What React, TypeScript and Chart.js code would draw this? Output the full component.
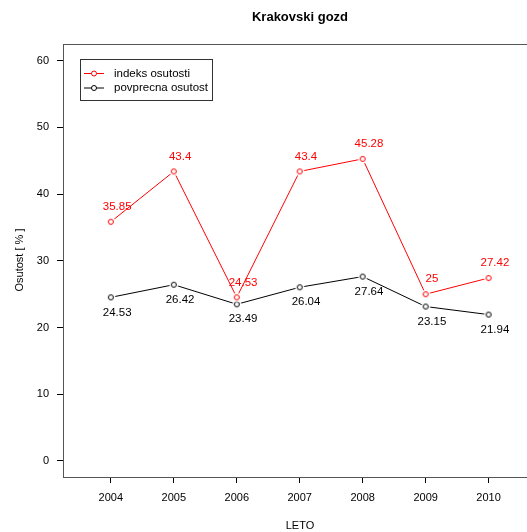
import React, { useEffect, useRef } from "react";
import { Chart, registerables } from "chart.js";

Chart.register(...registerables);

const years = [2004, 2005, 2006, 2007, 2008, 2009, 2010];
const indeksOsutosti = [35.85, 43.4, 24.53, 43.4, 45.28, 25, 27.42];
const povprecnaOsutost = [24.53, 26.42, 23.49, 26.04, 27.64, 23.15, 21.94];
const yTicks = [0, 10, 20, 30, 40, 50, 60];
const seriesNames = ["indeks osutosti", "povprecna osutost"];
const seriesColors = ["#ff0000", "#000000"];
const titleText = "Krakovski gozd";
const xTitle = "LETO";
const yTitle = "Osutost [ % ]";

const FONT = "'Liberation Sans', Arial, sans-serif";

function makePoint(color: string) {
  const c = document.createElement("canvas");
  c.width = 12;
  c.height = 12;
  const ctx = c.getContext("2d")!;
  ctx.fillStyle = "#ffffff";
  ctx.beginPath();
  ctx.arc(6, 6, 4.5, 0, Math.PI * 2);
  ctx.fill();
  ctx.strokeStyle = color;
  ctx.lineWidth = 1;
  ctx.beginPath();
  ctx.arc(6, 6, 2.5, 0, Math.PI * 2);
  ctx.stroke();
  return c;
}

const decorPlugin = {
  id: "decor",
  afterDatasetsDraw(chart: any) {
    const ctx = chart.ctx;
    const area = chart.chartArea;
    const xs = chart.scales.x;
    ctx.save();
    // top border of box
    ctx.strokeStyle = "#555";
    ctx.lineWidth = 1;
    ctx.beginPath();
    ctx.moveTo(area.left, Math.round(area.top) + 0.5);
    ctx.lineTo(area.right, Math.round(area.top) + 0.5);
    ctx.stroke();

    // data labels
    ctx.font = `11.5px ${FONT}`;
    ctx.textAlign = "center";
    ctx.textBaseline = "middle";
    chart.data.datasets.forEach((ds: any, di: number) => {
      const meta = chart.getDatasetMeta(di);
      ctx.fillStyle = ds.borderColor;
      meta.data.forEach((pt: any, i: number) => {
        const v = ds.data[i].y;
        const x = xs.getPixelForValue(years[i] + 0.1);
        const y = di === 0 ? pt.y - 15 : pt.y + 15;
        ctx.fillText(String(v), x, y);
      });
    });

    // title
    ctx.fillStyle = "#000";
    ctx.font = `bold 13px ${FONT}`;
    ctx.fillText(titleText, 300, 17);

    // axis titles
    ctx.font = `11px ${FONT}`;
    ctx.fillText(xTitle, 300, 526);
    ctx.save();
    ctx.translate(20, 260);
    ctx.rotate(-Math.PI / 2);
    ctx.fillText(yTitle, 0, 0);
    ctx.restore();

    // legend
    const lx = 80.5, ly = 59.5, lw = 132, lh = 41;
    ctx.strokeStyle = "#333";
    ctx.strokeRect(lx, ly, lw, lh);
    const rows = [73.5, 88];
    chart.data.datasets.forEach((ds: any, di: number) => {
      const ry = rows[di];
      ctx.strokeStyle = ds.borderColor;
      ctx.beginPath();
      ctx.moveTo(84, ry);
      ctx.lineTo(104, ry);
      ctx.stroke();
      ctx.fillStyle = "#fff";
      ctx.beginPath();
      ctx.arc(94, ry, 2.5, 0, Math.PI * 2);
      ctx.fill();
      ctx.stroke();
      ctx.fillStyle = "#000";
      ctx.textAlign = "left";
      ctx.font = `11.5px ${FONT}`;
      ctx.fillText(ds.label, 114, ry);
    });
    ctx.restore();
  },
};

export default function App() {
  const ref = useRef<HTMLCanvasElement>(null);
  useEffect(() => {
    const series = [indeksOsutosti, povprecnaOsutost];
    const chart = new Chart(ref.current!, {
      type: "line",
      data: {
        datasets: series.map((vals, si) => ({
          label: seriesNames[si],
          data: vals.map((v, i) => ({ x: years[i], y: v })),
          borderColor: seriesColors[si],
          backgroundColor: seriesColors[si],
          borderWidth: 1,
          pointStyle: makePoint(seriesColors[si]) as any,
          tension: 0,
          fill: false,
          clip: false as any,
        })),
      },
      options: {
        animation: false,
        responsive: false,
        devicePixelRatio: 1,
        events: [],
        layout: { autoPadding: false, padding: { top: 44, left: 0, right: 0, bottom: 0 } },
        plugins: {
          legend: { display: false },
          title: { display: false },
          tooltip: { enabled: false },
        },
        scales: {
          x: {
            type: "linear",
            min: 2003.24,
            max: 2010.61,
            afterBuildTicks: (s: any) => {
              s.ticks = years.map((v) => ({ value: v }));
            },
            afterFit: (s: any) => {
              s.height = 55;
              s.paddingLeft = 0;
              s.paddingRight = 0;
            },
            ticks: {
              font: { size: 11, family: FONT },
              color: "#000",
              padding: 8,
              maxRotation: 0,
              autoSkip: false,
              callback: (v: any) => String(v),
            },
            grid: { drawOnChartArea: false, tickLength: 6, color: "#000" },
            border: { color: "#555", width: 1 },
          },
          y: {
            type: "linear",
            min: -2.4,
            max: 62.5,
            afterBuildTicks: (s: any) => {
              s.ticks = yTicks.map((v) => ({ value: v }));
            },
            afterFit: (s: any) => {
              s.width = 63;
              s.paddingTop = 0;
              s.paddingBottom = 0;
            },
            ticks: {
              font: { size: 11, family: FONT },
              color: "#000",
              padding: 8,
              callback: (v: any) => String(v),
            },
            grid: { drawOnChartArea: false, tickLength: 6, color: "#000" },
            border: { color: "#555", width: 1 },
          },
        },
      },
      plugins: [decorPlugin],
    });
    return () => chart.destroy();
  }, []);
  return (
    <div style={{ position: "fixed", left: 0, top: 0, width: 527, height: 532, background: "#fff" }}>
      <canvas ref={ref} width={527} height={532} style={{ display: "block", width: 527, height: 532 }} />
    </div>
  );
}
